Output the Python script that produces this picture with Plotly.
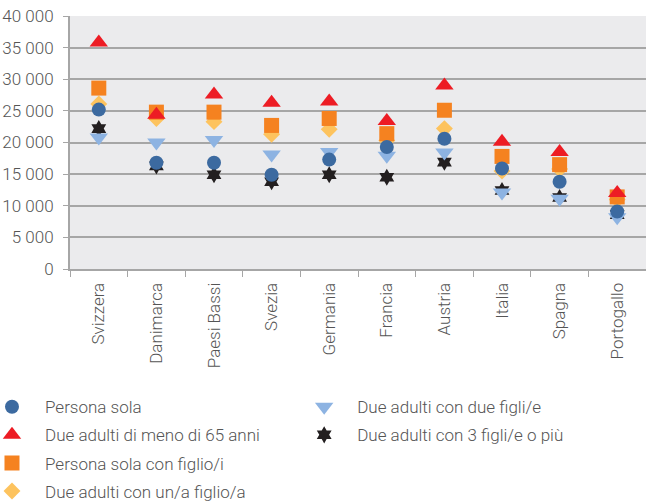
import plotly.graph_objects as go

countries = ["Svizzera", "Danimarca", "Paesi Bassi", "Svezia", "Germania",
             "Francia", "Austria", "Italia", "Spagna", "Portogallo"]

persona_sola = [25200, 16800, 16800, 14900, 17300, 19300, 20600, 15900, 13800, 9100]
due_adulti_65 = [35800, 24400, 27600, 26300, 26500, 23400, 29000, 20100, 18500, 12000]
sola_con_figli = [28600, 24800, 24800, 22700, 23800, 21400, 25100, 17800, 16500, 11400]
due_un_figlio = [26100, 23800, 23300, 21300, 22100, 20300, 22200, 15500, 15800, 11000]
due_due_figli = [20800, 20000, 20400, 18100, 18500, 17900, 18400, 12100, 11100, 8200]
due_tre_figli = [22200, 16300, 14900, 13800, 14900, 14500, 16900, 12400, 11300, 8600]

y_ticks = [0, 5000, 10000, 15000, 20000, 25000, 30000, 35000, 40000]
y_tick_labels = ["0", "5 000", "10 000", "15 000", "20 000", "25 000", "30 000", "35 000", "40 000"]

names = ["Persona sola", "Due adulti di meno di 65 anni", "Persona sola con figlio/i",
         "Due adulti con un/a figlio/a", "Due adulti con due figli/e",
         "Due adulti con 3 figli/e o più"]

# drawing order (bottom to top): star, down-triangle, diamond, square, triangle, circle
specs = [
    (5, due_tre_figli, "hexagram", "#231F20", 13, "legend2"),
    (4, due_due_figli, "triangle-down", "#8DB3E2", 16, "legend2"),
    (3, due_un_figlio, "diamond", "#FDC35E", 13, "legend"),
    (2, sola_con_figli, "square", "#F58220", 15, "legend"),
    (1, due_adulti_65, "triangle-up", "#ED1C24", 16, "legend"),
    (0, persona_sola, "circle", "#3C6AA0", 14, "legend"),
]

fig = go.Figure()
for idx, vals, sym, col, size, leg in specs:
    fig.add_trace(go.Scatter(
        x=countries, y=vals, mode="markers", name=names[idx],
        marker=dict(symbol=sym, color=col, size=size, line=dict(width=0)),
        legend=leg, legendrank=idx + 1, legendgroup="g%d" % idx,
        showlegend=True,
    ))

font_col = "#555555"
fnt = dict(family="Roboto", size=17, color=font_col, weight=300)
fig.update_layout(
    width=646, height=501,
    margin=dict(l=70, r=0, t=16, b=232, autoexpand=False),
    paper_bgcolor="white",
    plot_bgcolor="#EBEBED",
    font=fnt,
    xaxis=dict(
        type="category", range=[-0.5, 9.5],
        showgrid=False, showline=True, linecolor="#A6A6A6", linewidth=2,
        ticks="outside", tickson="boundaries", ticklen=6, tickcolor="#A6A6A6",
        tickangle=-90, ticklabelstandoff=5, automargin=False,
        tickfont=fnt,
    ),
    yaxis=dict(
        range=[0, 40000], tickvals=y_ticks, ticktext=y_tick_labels,
        showgrid=True, gridcolor="#A6A6A6", gridwidth=1.5,
        showline=True, linecolor="#A6A6A6", linewidth=2, zeroline=False,
        ticks="outside", ticklen=5, tickcolor="#A6A6A6",
        ticklabelstandoff=6, automargin=False,
        tickfont=fnt,
    ),
    legend=dict(
        xref="paper", yref="paper", x=-0.158, y=-0.475,
        xanchor="left", yanchor="top", orientation="v",
        font=fnt, tracegroupgap=3, itemwidth=56, bgcolor="rgba(0,0,0,0)",
    ),
    legend2=dict(
        xref="paper", yref="paper", x=0.384, y=-0.475,
        xanchor="left", yanchor="top", orientation="v",
        font=fnt, tracegroupgap=3, itemwidth=56, bgcolor="rgba(0,0,0,0)",
    ),
)

fig.write_html("out.html", config={"displayModeBar": False},
               post_script="document.body.style.margin='0';")
